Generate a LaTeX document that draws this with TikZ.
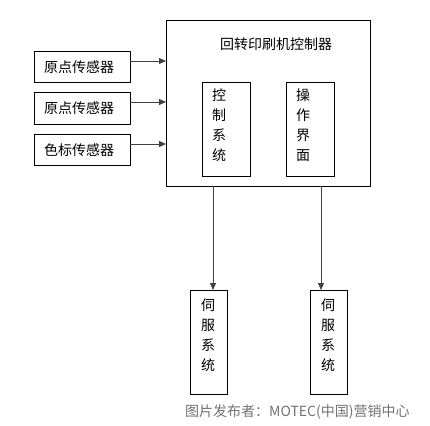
\documentclass[tikz,border=0pt]{standalone}
\usepackage{fontspec}
\setmainfont{Noto Sans CJK SC}
\usetikzlibrary{arrows.meta}
\begin{document}
\begin{tikzpicture}[x=1pt,y=-1pt,
  box/.style={draw=black,line width=0.9pt},
  lbl/.style={font=\fontsize{14}{16}\selectfont,inner sep=0pt},
  vtxt/.style={font=\fontsize{14}{20}\selectfont,inner sep=0pt,align=center},
  arr/.style={draw=black!75,line width=0.8pt,-{Triangle[length=7pt,width=6pt]}}]
\useasboundingbox (0,0) rectangle (430,425);
\fill[white] (0,0) rectangle (430,425);
% main box
\draw[box] (166,20) rectangle (370,186);
\node[lbl] (title) at (276,44) {回转印刷机控制器};
\coordinate (mainL1) at (166,61);
\coordinate (mainL2) at (166,102);
\coordinate (mainL3) at (166,144);
% sensors
\draw[box] (34,51) rectangle (130,82);
\node[lbl] (s1) at (79,67) {原点传感器};
\draw[box] (34,92) rectangle (130,124);
\node[lbl] (s2) at (79,108) {原点传感器};
\draw[box] (34,134) rectangle (130,165);
\node[lbl] (s3) at (79,150) {色标传感器};
\coordinate (s1r) at (130,61);
\coordinate (s2r) at (130,102);
\coordinate (s3r) at (130,144);
\draw[arr] (s1r) -- (mainL1);
\draw[arr] (s2r) -- (mainL2);
\draw[arr] (s3r) -- (mainL3);
% inner boxes
\draw[box] (202,82) rectangle (250,176);
\node[vtxt,anchor=north] (ctl) at (219,89) {控\\制\\系\\统};
\draw[box] (286,82) rectangle (334,176);
\node[vtxt,anchor=north] (ui) at (303,89) {操\\作\\界\\面};
% servo boxes
\draw[box] (190,290) rectangle (227,394);
\node[vtxt,anchor=north] (sv1) at (208,299) {伺\\服\\系\\统};
\draw[box] (310,290) rectangle (347,394);
\node[vtxt,anchor=north] (sv2) at (328,299) {伺\\服\\系\\统};
\coordinate (d1a) at (213,186);
\coordinate (d1b) at (213,290);
\coordinate (d2a) at (321,186);
\coordinate (d2b) at (321,290);
\draw[arr] (d1a) -- (d1b);
\draw[arr] (d2a) -- (d2b);
% watermark
\node[font=\fontsize{14}{16}\selectfont,text=black!55,inner sep=0pt,anchor=west] (wm) at (185,412) {图片发布者：MOTEC(中国)营销中心};
\end{tikzpicture}
\end{document}
